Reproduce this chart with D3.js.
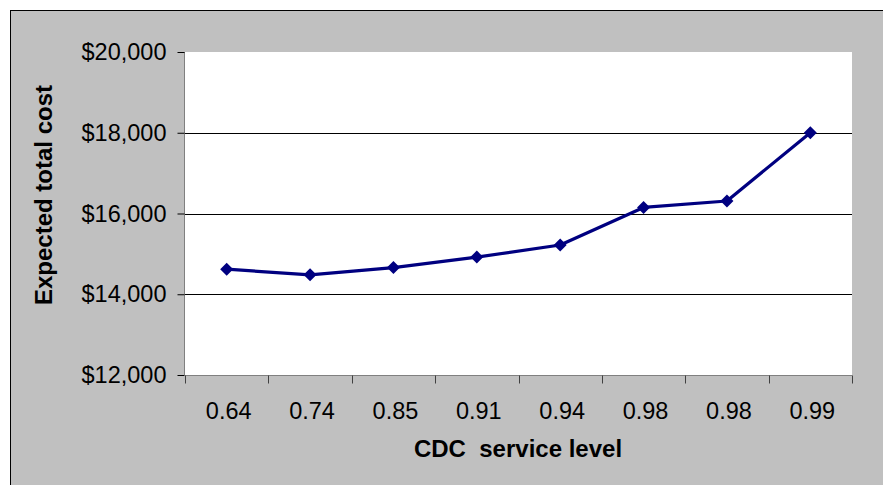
<!DOCTYPE html>
<html>
<head>
<meta charset="utf-8">
<script src="https://cdn.jsdelivr.net/npm/d3@7"></script>
<style>
  html, body { margin: 0; padding: 0; background: #ffffff; }
  svg { display: block; }
  text { font-family: "Liberation Sans", Arial, sans-serif; fill: #000; }
</style>
</head>
<body>
<svg id="chart" width="883" height="485"></svg>
<script>
// Service level categories (two points share the 0.98 label)
const serviceLevels = ["0.64", "0.74", "0.85", "0.91", "0.94", "0.98", "0.98", "0.99"];
// Expected total cost at each service level
const totalCost = [14620, 14480, 14660, 14920, 15220, 16150, 16310, 18000];
// Value-axis ticks
const costTicks = [12000, 14000, 16000, 18000, 20000];
const gridTicks = [14000, 16000, 18000];

const svg = d3.select("#chart");
const W = 883, H = 485;
const plot = { left: 185, top: 52, right: 852, bottom: 375 };

// Chart area background with border
svg.append("rect")
  .attr("x", 10.5).attr("y", 10.5)
  .attr("width", W + 20).attr("height", H + 20)
  .attr("fill", "#c0c0c0")
  .attr("stroke", "#000").attr("stroke-width", 1);

// Plot area
svg.append("rect")
  .attr("x", plot.left).attr("y", plot.top)
  .attr("width", plot.right - plot.left).attr("height", plot.bottom - plot.top)
  .attr("fill", "#ffffff");

const x = d3.scaleBand()
  .domain(d3.range(serviceLevels.length))
  .range([plot.left, plot.right])
  .padding(0);

const y = d3.scaleLinear()
  .domain([12000, 20000])
  .range([plot.bottom, plot.top]);

// Horizontal gridlines
svg.append("g")
  .selectAll("line")
  .data(gridTicks)
  .join("line")
  .attr("x1", plot.left).attr("x2", plot.right)
  .attr("y1", d => Math.round(y(d)) + 0.5).attr("y2", d => Math.round(y(d)) + 0.5)
  .attr("stroke", "#000").attr("stroke-width", 1);

// Value axis
const fmt = d3.format(",");
const yAxis = svg.append("g")
  .attr("transform", `translate(${plot.left - 0.5},0)`)
  .call(d3.axisLeft(y).tickValues(costTicks).tickSize(7).tickPadding(11)
    .tickFormat(d => "$" + fmt(d)));
yAxis.select(".domain").attr("stroke", "#808080").attr("d", `M0,${plot.top}V${plot.bottom}`);
yAxis.selectAll(".tick line").attr("stroke", "#000");
yAxis.selectAll(".tick text")
  .style("font-family", '"Liberation Sans", Arial, sans-serif')
  .style("font-size", "23.5px").attr("fill", "#000");

// Category axis: ticks fall between categories, labels centred in each band
const xAxis = svg.append("g").attr("transform", `translate(0,${plot.bottom + 0.5})`);
xAxis.append("line")
  .attr("x1", plot.left).attr("x2", plot.right)
  .attr("y1", 0).attr("y2", 0)
  .attr("stroke", "#808080");
const boundaries = x.domain().map(i => x(i)).concat([x.range()[1]]);
xAxis.selectAll("line.tick")
  .data(boundaries)
  .join("line")
  .attr("class", "tick")
  .attr("x1", d => Math.round(d) + 0.5).attr("x2", d => Math.round(d) + 0.5)
  .attr("y1", 0).attr("y2", 8)
  .attr("stroke", "#404040");
xAxis.selectAll("text")
  .data(serviceLevels)
  .join("text")
  .attr("x", (d, i) => x(i) + x.bandwidth() / 2 + 2)
  .attr("y", 43)
  .attr("text-anchor", "middle")
  .style("font-size", "23.5px")
  .text(d => d);

// Cost line
const line = d3.line()
  .x((d, i) => x(i) + x.bandwidth() / 2)
  .y(d => y(d));

svg.append("path")
  .datum(totalCost)
  .attr("d", line)
  .attr("fill", "none")
  .attr("stroke", "#000080")
  .attr("stroke-width", 3.2)
  .attr("stroke-linejoin", "round");

// Diamond markers
svg.append("g")
  .selectAll("path")
  .data(totalCost)
  .join("path")
  .attr("transform", (d, i) => `translate(${x(i) + x.bandwidth() / 2},${y(d)})`)
  .attr("d", "M0,-6.5L6.5,0L0,6.5L-6.5,0Z")
  .attr("fill", "#000080");

// Axis titles
svg.append("text")
  .attr("x", 518).attr("y", 457)
  .attr("text-anchor", "middle")
  .style("font-size", "24px").style("font-weight", "bold")
  .style("white-space", "pre")
  .text("CDC  service level");

svg.append("text")
  .attr("transform", "translate(52,195) rotate(-90)")
  .attr("text-anchor", "middle")
  .style("font-size", "24px").style("font-weight", "bold")
  .text("Expected total cost");
</script>
</body>
</html>
